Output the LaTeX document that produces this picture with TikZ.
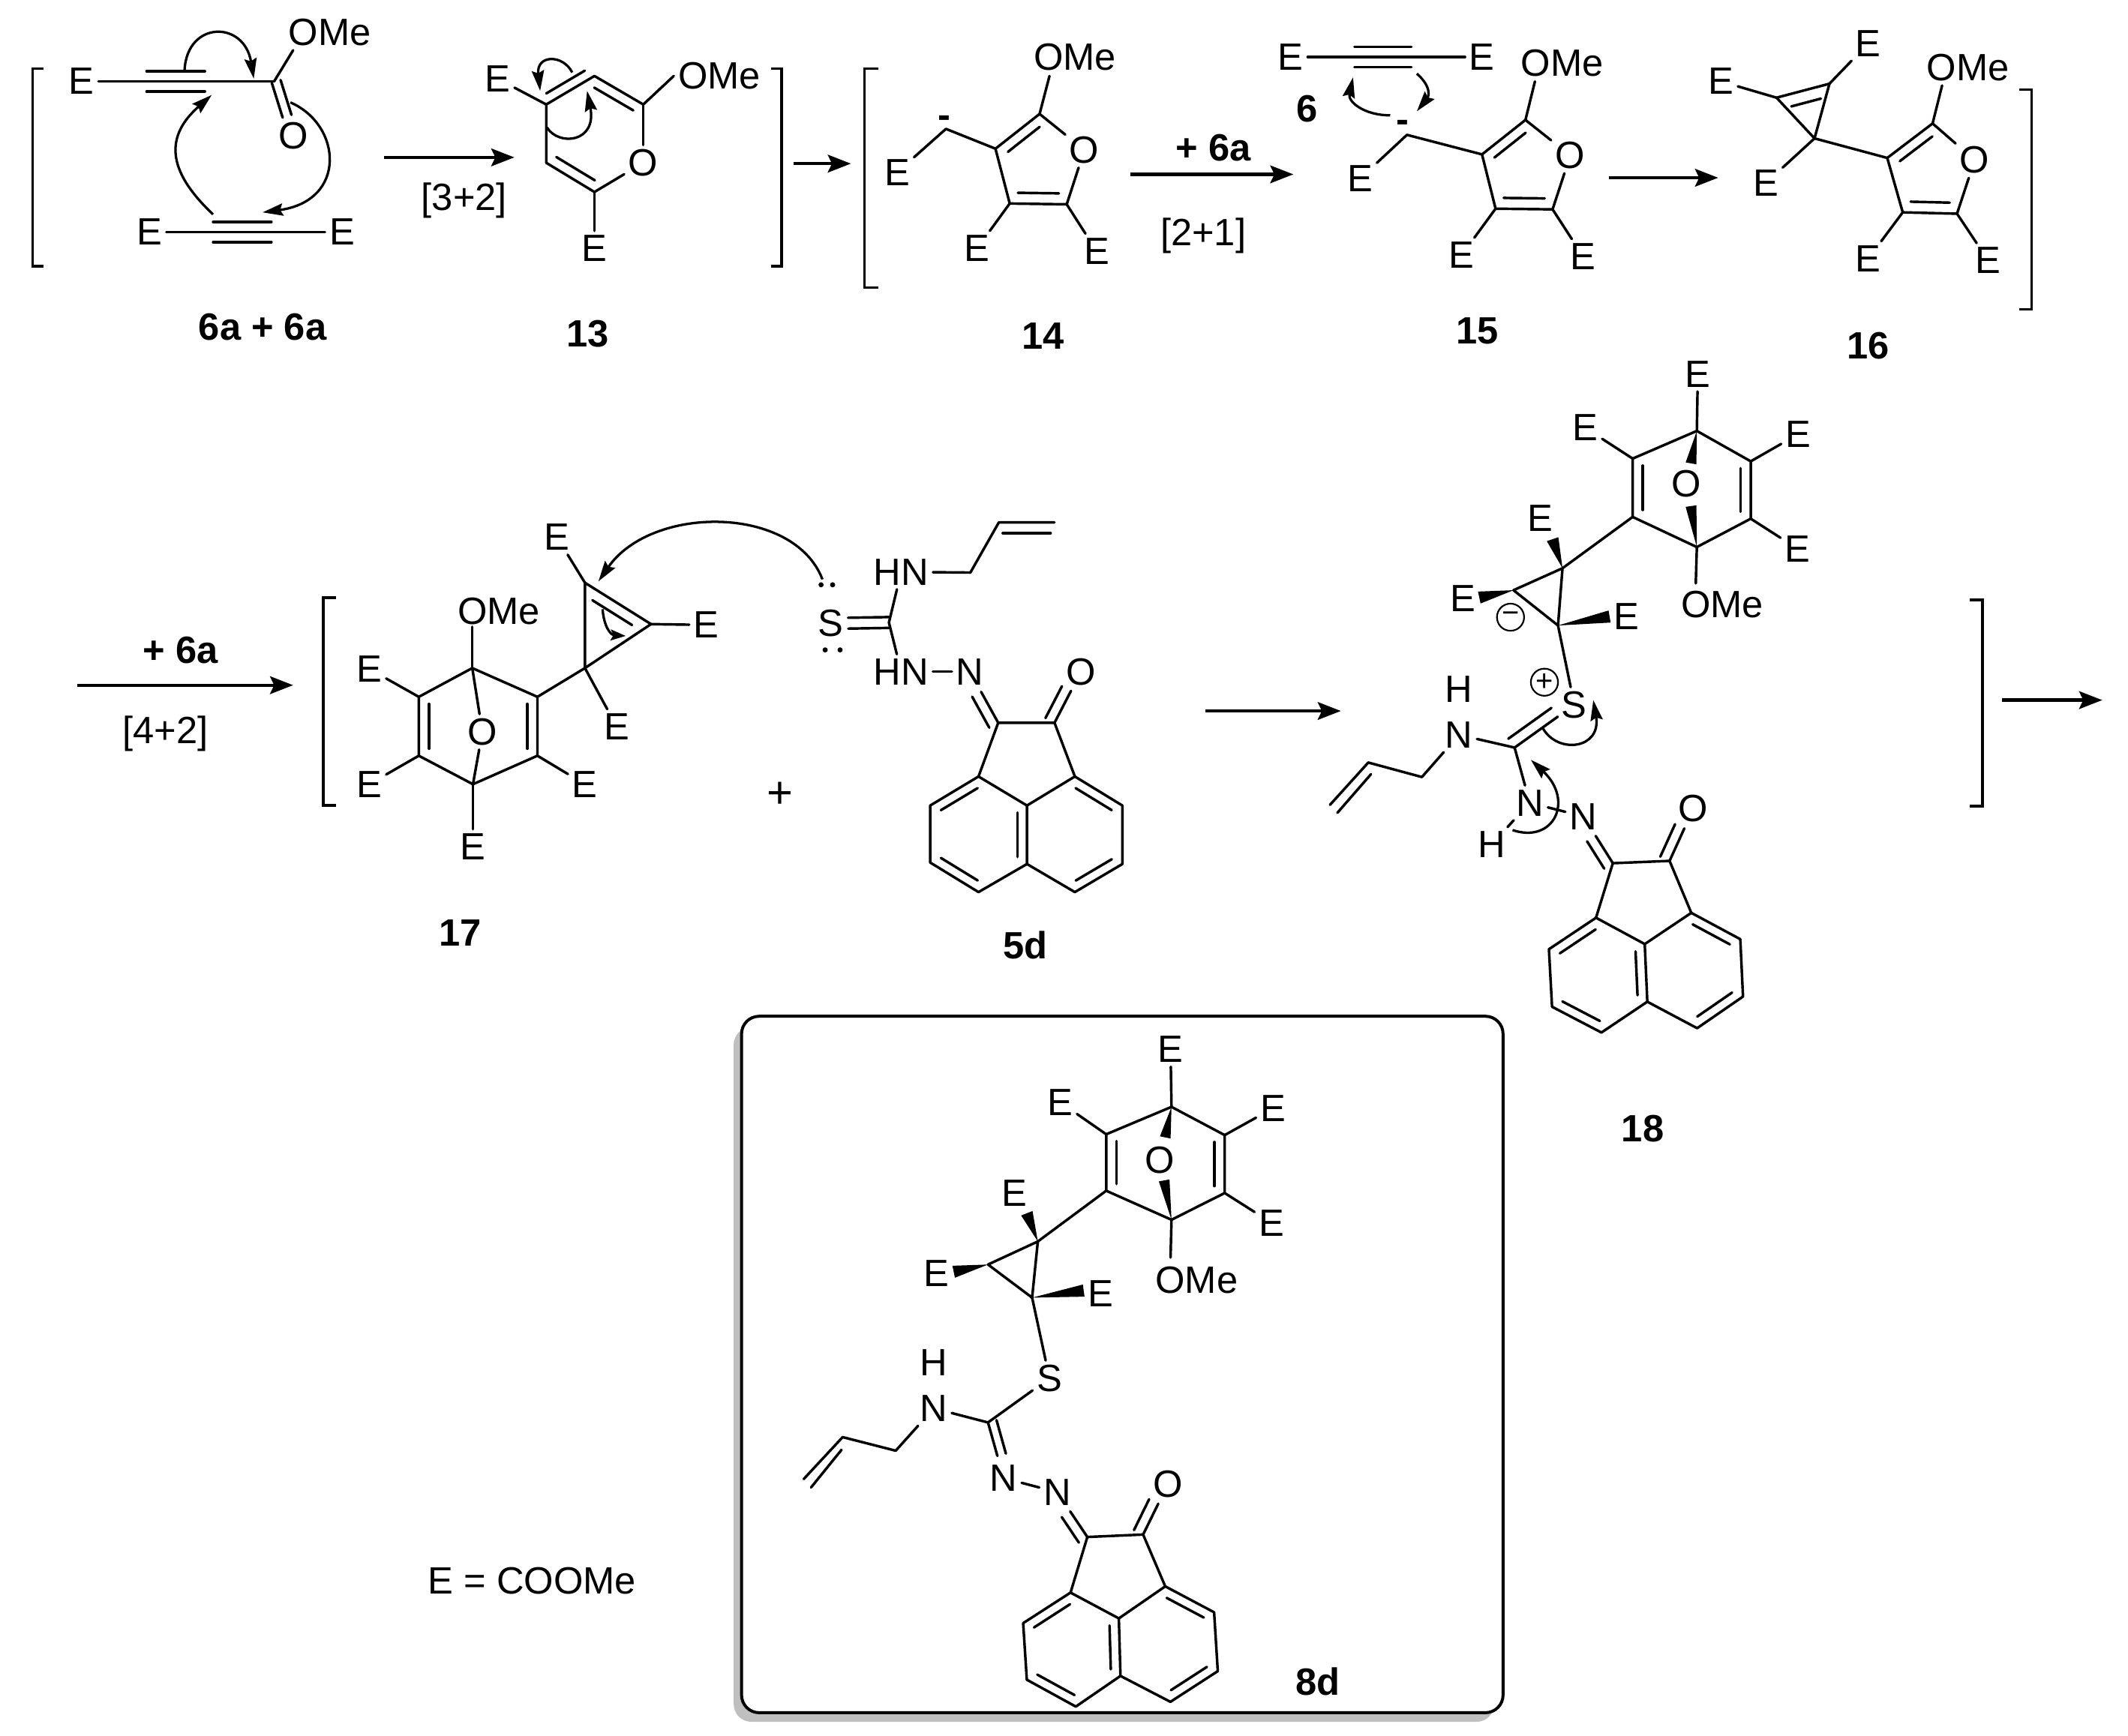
\documentclass[tikz,border=0pt]{standalone}
\usepackage{fontspec}
\setmainfont{Liberation Sans}
\usetikzlibrary{calc,arrows.meta}
\tikzset{
  bond/.style={line width=1.9pt,line cap=round,line join=round},
  atom/.style={font=\fontsize{28}{30}\selectfont,inner sep=3pt},
  lab/.style={font=\fontsize{28}{30}\selectfont\bfseries,inner sep=1pt},
  rxn/.style={line width=2.4pt,-{Stealth[length=17pt,width=13pt,inset=3pt]}},
  push/.style={line width=1.8pt,-{Stealth[length=15pt,width=9pt,inset=2pt]}},
  brk/.style={line width=2.1pt,line join=miter},
  chg/.style={circle,draw,line width=1.2pt,minimum size=20pt,inner sep=0pt,font=\fontsize{22}{24}\selectfont}
}
\newcommand\pts[1]{\foreach \n/\x/\y in {#1}{\coordinate (\n) at (\x,\y);}}
\newcommand\lbls[2]{\foreach \n/\x/\y/\t in {#2}{\node[#1] (\n) at (\x,\y) {\t};}}
\newcommand\bd[1]{\draw[bond] #1;}
\newcommand\dbl[4][]{\draw[bond,#1] ($(#2)!#4pt!90:(#3)$) -- ($(#3)!#4pt!-90:(#2)$);\draw[bond,#1] ($(#2)!#4pt!-90:(#3)$) -- ($(#3)!#4pt!90:(#2)$);}
\newcommand\dbs[4][]{\draw[bond,#1] ($(#2)$) -- ($(#3)$);\draw[bond,#1] ($(#2)!#4pt!90:(#3)$) -- ($(#3)!#4pt!-90:(#2)$);}
\newcommand\inb[4][.12]{\draw[bond] ($(#2)!#1!(#3)!#4pt!90:(#3)$) -- ($(#3)!#1!(#2)!#4pt!-90:(#2)$);}
\newcommand\wdg[3]{\fill (#1) -- ($(#2)!#3pt!90:(#1)$) -- ($(#2)!#3pt!-90:(#1)$) -- cycle;}
% acenaphthylenone skeleton
\newcommand\acen[1]{%
  \draw[bond] (#1p)--(#1a)--(#1t)--(#1u)--(#1r)--(#1q)--cycle;
  \draw[bond] (#1t)--(#1b)--(#1w)--(#1v)--(#1s)--(#1u);
  \draw[bond] (#1a)--(#1c1)--(#1c2)--(#1b);
  \inb{#1a}{#1p}{7}\inb{#1w}{#1b}{7}\inb{#1u}{#1t}{7}\inb{#1q}{#1r}{7}\inb{#1s}{#1v}{7}}
% furan with OMe and two E
\newcommand\furan[1]{%
  \draw[bond] (#1m)--(#1c2)--(#1c3)--(#1c4)--(#1c5);
  \bd{(#1c2)--(#1o)}\bd{(#1o)--(#1c5)}\bd{(#1c4)--(#1e4)}\bd{(#1c5)--(#1e5)}
  \inb[.14]{#1c2}{#1c3}{7.5}\inb[.14]{#1c4}{#1c5}{8}}
% oxanorbornadiene ring
\newcommand\bicy[1]{%
  \draw[bond] (#1tc)--(#1ul)--(#1ll)--(#1bc)--(#1lr)--(#1ur)--cycle;
  \inb{#1ul}{#1ll}{7.5}\inb{#1lr}{#1ur}{7.5}}
\begin{document}
\begin{tikzpicture}[x=1pt,y=-1pt]
\useasboundingbox (0,0) rectangle (1568,1279.4);
\fill[white] (0,0) rectangle (1568,1279.4);

%%% --- brackets
\draw[brk] (32,50.6)--(24,50.6)--(24,196)--(32,196);
\draw[brk] (568,50.6)--(576,50.6)--(576,196)--(568,196);
\draw[brk] (647,50.6)--(637,50.6)--(637,212)--(647,212);
\draw[brk] (1488,66)--(1497,66)--(1497,228)--(1488,228);
\draw[brk] (247.5,440.4)--(238,440.4)--(238,593.8)--(247.5,593.8);
\draw[brk] (1451.5,442.3)--(1460.7,442.3)--(1460.7,594)--(1451.5,594);

%%% --- reaction arrows
\pts{r1s/283/116,r1e/379/116,r2s/584.5/120.6,r2e/627/120.6,r3s/833/128.5,r3e/953/128.5,
     r4s/1185.5/131,r4e/1266/131,r5s/57/505,r5e/216/505,r6s/888/524,r6e/988/524,r7s/1475/516,r7e/1549/516}
\foreach \k in {1,...,7}{\draw[rxn] (r\k s) -- (r\k e);}

%%% --- reagents 6a + 6a
\lbls{atom}{aE1/60/60/E,aOM/243/24/OMe,aO/216/100/O,aE2/110/171/E,aE3/252/171/E}
\pts{aC/202/60,aM/216/37,aTa/108/60,aTb/151/60,aUa/157/171,aUb/200/171,aCd/203.5/60}
\bd{(aE1)--(aC)}\bd{(aC)--(aM)}\bd{(aE2)--(aE3)}
\dbl{aTa}{aTb}{7.5}\dbl{aUa}{aUb}{7.5}
\dbl[shorten >=15pt]{aCd}{aO}{3.4}
\pts{p1a/136/51.5,p1b/187/58,p2a/214/75.5,p2b/193.5/156.5,p3a/157/158,p3b/156/70}
\draw[push] (p1a) .. controls (138,15) and (180,15) .. (p1b);
\draw[push] (p2a) .. controls (252,92) and (256,148) .. (p2b);
\draw[push] (p3a) .. controls (122,125) and (122,100) .. (p3b);
\node[lab] (l6a) at (193.5,241) {6a + 6a};
\node[atom] (t32) at (342,148) {[3+2]};

%%% --- 13
\lbls{atom}{bE1/366.6/58/E,bOM/530/56/OMe,bO/474/120/O,bE2/438/183/E}
\pts{b1/402.5/77,b2/438/56,b3/474/77,b5/438/141.5,b6/402.5/120}
\draw[bond] (b6)--(b1)--(b2)--(b3);
\bd{(b3)--(bO)}\bd{(bO)--(b5)}\bd{(b5)--(b6)}\bd{(b1)--(bE1)}\bd{(b3)--(bOM.west)}\bd{(b5)--(bE2)}
\inb[.1]{b1}{b2}{7}\inb[.1]{b3}{b2}{7.5}\inb[.1]{b6}{b5}{7.5}
\pts{p4a/421.6/53.4,p4b/398/67,p5a/403/94,p5b/432.6/67}
\draw[push] (p4a) .. controls (415,40) and (395,40) .. (p4b);
\draw[push] (p5a) .. controls (412,108) and (440,105) .. (p5b);
\node[lab] (l13) at (433,246) {13};

%%% --- 14
\lbls{atom}{com/792/42/OMe,co/799/110.5/O,ce4/720/183/E,ce5/808/185/E,cE/661/127/E}
\pts{cm/773.3/56,cc2/766/84,cc3/733.5/109.6,cc4/744/150,cc5/786/150.6,cH/697/95}
\furan{c}
\draw[bond] (cc3)--(cH)--(cE);
\node[lab] (cmin) at (695.6,90) {-};
\node[lab] (l14) at (768.4,247.7) {14};
\node[lab] (p6a) at (894,109) {+ 6a};
\node[atom] (t21) at (886.6,174) {[2+1]};

%%% --- 6 + 15
\lbls{atom}{dF1/951/42/E,dF2/1092/42/E,dom/1151/46.5/OMe,do/1157/114.6/O,de4/1077/188/E,de5/1166.5/189/E,dE/1002/131.7/E}
\pts{dTa/998/42,dTb/1040/42,dm/1131/60,dc2/1124/88.4,dc3/1092/113.8,dc4/1102/153.8,dc5/1144/154.3,dH/1036.7/99.4}
\bd{(dF1)--(dF2)}\dbl{dTa}{dTb}{7.5}
\furan{d}
\draw[bond] (dc3)--(dH)--(dE);
\node[lab] (l6) at (963,80) {6};
\node[lab] (dmin) at (1033.6,93) {-};
\pts{p6s/1024.4/85,p6e/997/57,p7s/1044/54.3,p7e/1044/82}
\draw[push] (p6s) .. controls (1005,85) and (993,75) .. (p6e);
\draw[push] (p7s) .. controls (1056,65) and (1052,72) .. (p7e);
\node[lab] (l15) at (1088.7,244) {15};

%%% --- 16
\lbls{atom}{eom/1450/49.7/OMe,eo/1455/118/O,ee4/1376.6/190.6/E,ee5/1465/192/E,eE1/1268/60/E,eE2/1376.6/32/E,eE3/1301/135/E}
\pts{em/1431/63,ec2/1424/91,ec3/1390.6/116.4,ec4/1402/156.5,ec5/1442/157.5,eA/1337/102,eB/1309/72,eD/1348/61.7}
\furan{e}
\draw[bond] (eA)--(eB)--(eD)--cycle;
\bd{(eA)--(ec3)}\bd{(eA)--(eE3)}\bd{(eB)--(eE1)}\bd{(eD)--(eE2)}
\inb[.22]{eD}{eB}{9}
\node[lab] (l16) at (1376.6,255) {16};

%%% --- row 2 arrow labels
\node[lab] (p6b) at (133,479) {+ 6a};
\node[atom] (t42) at (122,541) {[4+2]};

%%% --- 17
\lbls{atom}{fOM/367.6/450.3/OMe,fO/355.4/539.4/O,fE1/272/493/E,fE2/272/578/E,fE3/431/578/E,fE4/348.5/624/E,
            fE5/410.4/396/E,fE6/520.4/460.6/E,fE7/454.4/535.5/E}
\pts{ftc/348/492.4,ful/308.6/513.6,fll/308.6/557,fbc/348.5/578,flr/396/557,fur/396/513.6,fm/348/462,
     fA/431/429.5,fB/479.7/460,fC/431/492.4}
\bicy{f}
\bd{(ftc)--(fm)}\bd{(ftc)--(fO)}\bd{(fO)--(fbc)}\bd{(fbc)--(fE4)}
\bd{(ful)--(fE1)}\bd{(fll)--(fE2)}\bd{(flr)--(fE3)}
\draw[bond] (fA)--(fB)--(fC)--cycle;
\bd{(fC)--(fur)}\bd{(fC)--(fE7)}\bd{(fA)--(fE5)}\bd{(fB)--(fE6)}
\inb[.2]{fB}{fA}{8}
\pts{p8a/444/449,p8b/461/468.7,p9a/606/427,p9b/441/428.4}
\draw[line width=1.8pt,-{Stealth[length=11pt,width=8pt,inset=2pt]}] (p8a) .. controls (445,462) and (450,468) .. (p8b);
\draw[push] (p9a) .. controls (585,372) and (480,372) .. (p9b);
\node[lab] (l17) at (339,687.5) {17};
\node[atom,font=\fontsize{33}{35}\selectfont] (plus) at (575,586) {+};

%%% --- 5d
\lbls{atom}{gS/612/459.5/S,gH1/664/421.5/HN,gH2/664/495/HN,gN/714.7/495/N,gO/796.5/495/O}
\pts{gC/655/458.8,gL1/715/422,gL2/736/385,gL3/777/385,
     gc1/735.5/532.7,gc2/777/532.7,ga/721/572.3,gb/792/572.3,gt/756.7/593.7,gu/756.7/636.8,
     gp/685.4/593.7,gq/685.4/635.7,gr/721/657.5,gs/792/657.5,gv/827/636.8,gw/827/593.7}
\fill (605,431) circle (1.9pt) (613.5,431) circle (1.9pt) (608,479) circle (1.9pt) (619,479) circle (1.9pt);
\dbl[shorten >=13pt]{gC}{gS}{4}
\bd{(gC)--(gH1)}\bd{(gC)--(gH2)}\bd{(gH2)--(gN)}
\draw[bond] (gH1)--(gL1)--(gL2)--(gL3);
\inb[.07]{gL3}{gL2}{8}
\acen{g}
\dbs[shorten >=17pt]{gc1}{gN}{7.5}\dbs[shorten >=16pt]{gc2}{gO}{7.5}
\node[lab] (l5d) at (755.4,696.7) {5d};

%%% --- 18
\lbls{atom}{hE1/1251/275.7/E,hO/1242.3/356.7/O,hE2/1168/315.3/E,hE3/1325/320/E,hE4/1324.5/404.4/E,hOM/1269/445.6/OMe,
            hE5/1135/381.8/E,hE6/1078/441/E,hE7/1198.2/454.4/E,hS/1160/519.5/S,hH/1075/508/H,hN/1075/541.6/N,
            hN1/1127.2/591.7/N,hH2/1099/622.4/H,hN2/1166.7/601.7/N,hOO/1247.7/596/O}
\pts{htc/1250.3/317.6,hul/1203/338,hll/1203/381,hbc/1250.3/403.2,hlr/1290/382.3,hur/1290/340,hmm/1249.5/430,
     hw1/1246/341.5,hw2/1246/373,hA/1151.3/418.8,hB/1115.2/435,hCc/1148/461,hw3/1144/397.4,hw4/1090/440.4,hw5/1186/454.4,
     hC/1116/551,hL1/1047.7/572.7,hL2/1008.2/562,hL3/980/593.2,hL4/1010.2/570.6,hL5/985.4/599.1,
     hc1/1188.4/636.2,hc2/1230.2/634.5,ha/1176/676.4,hb/1246.2/672.8,ht/1211.9/695.8,hu/1213.8/738.3,
     hp/1141.3/699.6,hq/1143.6/742,hr/1180/761,hs/1250.5/757.8,hv/1284.3/734.5,hw/1282.3/692.2}
\bicy{h}
\bd{(htc)--(hE1)}\bd{(hul)--(hE2)}\bd{(hur)--(hE3)}\bd{(hlr)--(hE4)}\bd{(hbc)--(hmm)}
\wdg{htc}{hw1}{4}\wdg{hbc}{hw2}{4}
\draw[bond] (hA)--(hB)--(hCc)--cycle;
\bd{(hll)--(hA)}\bd{(hCc)--(hS)}
\wdg{hA}{hw3}{4.5}\wdg{hB}{hw4}{4.5}\wdg{hCc}{hw5}{4.5}
\node[chg] (hmin) at (1113,454.9) {−};
\node[chg] (hplus) at (1138,502.8) {+};
\dbs[shorten >=15pt]{hC}{hS}{8}
\bd{(hN)--(hC)}\bd{(hC)--(hN1)}\bd{(hN1)--(hH2)}\bd{(hN1)--(hN2)}
\draw[bond] (hN)--(hL1)--(hL2)--(hL3);\bd{(hL4)--(hL5)}
\acen{h}
\dbs[shorten >=17pt]{hc1}{hN2}{7.5}\dbs[shorten >=16pt]{hc2}{hOO}{7.5}
\pts{p10a/1137/537,p10b/1174/516,p11a/1114.5/611.8,p11b/1128/560}
\draw[push] (p10a) .. controls (1148,556) and (1180,552) .. (p10b);
\draw[push] (p11a) .. controls (1145,622) and (1160,590) .. (p11b);
\node[lab] (l18) at (1210.4,831.9) {18};

%%% --- boxed product 8d
\fill[black!25,rounded corners=13pt] (540.6,757) rectangle (1101,1269);
\draw[line width=2.2pt,fill=white,rounded corners=13pt] (546.4,749) rectangle (1107.5,1262.3);
\lbls{atom}{kE1/862.5/773.4/E,kO/854.7/855/O,kE2/781/812.3/E,kE3/938/816.8/E,kE4/936.9/901.2/E,kOM/881.8/943.5/OMe,
            kE5/747.3/879.3/E,kE6/690/938.3/E,kE7/810.9/953.3/E,kS/773.3/1015.8/S,kH/688/1004.3/H,kN/688/1038/N,
            kN1/739.5/1089.4/N,kN2/779.1/1099.8/N,kOO/860.5/1093.9/O}
\pts{ktc/863.2/815.8,kul/815.1/836,kll/815.1/877.6,kbc/863.2/899,klr/902.4/879.3,kur/902.4/836.6,kmm/862.5/926.8,
     kw1/858.6/838.3,kw2/857.8/870,kA/764.7/915,kB/728/932,kCc/760.5/956.4,kw3/756.6/894.2,kw4/702.7/937.3,kw5/798.5/951.2,
     kC/728/1048.4,kL1/660/1069.2,kL2/620.9/1059.2,kL3/592.2/1090.1,kL4/620.1/1068.5,kL5/597.6/1096.3,
     kc1/801.2/1132.8,kc2/842.3/1131,ka/788.8/1173.8,kb/858.6/1169.2,kt/824.4/1192.8,ku/825.6/1235.2,
     kp/753.9/1196.3,kq/756.6/1238,kr/792.7/1257.8,ks/862.4/1254.3,kv/897.3/1231.7,kw/894.6/1188.3}
\bicy{k}
\bd{(ktc)--(kE1)}\bd{(kul)--(kE2)}\bd{(kur)--(kE3)}\bd{(klr)--(kE4)}\bd{(kbc)--(kmm)}
\wdg{ktc}{kw1}{4}\wdg{kbc}{kw2}{4}
\draw[bond] (kA)--(kB)--(kCc)--cycle;
\bd{(kll)--(kA)}\bd{(kCc)--(kS)}
\wdg{kA}{kw3}{4.5}\wdg{kB}{kw4}{4.5}\wdg{kCc}{kw5}{4.5}
\bd{(kS)--(kC)}\bd{(kN)--(kC)}\bd{(kN1)--(kN2)}
\draw[bond] (kN)--(kL1)--(kL2)--(kL3);\bd{(kL4)--(kL5)}
\dbs[shorten >=17pt]{kC}{kN1}{6.5}
\acen{k}
\dbs[shorten >=17pt]{kc1}{kN2}{7.5}\dbs[shorten >=16pt]{kc2}{kOO}{7.5}
\node[lab] (l8d) at (971,1239.4) {8d};
\node[atom] (def) at (392,1165) {E = COOMe};
\end{tikzpicture}
\end{document}
